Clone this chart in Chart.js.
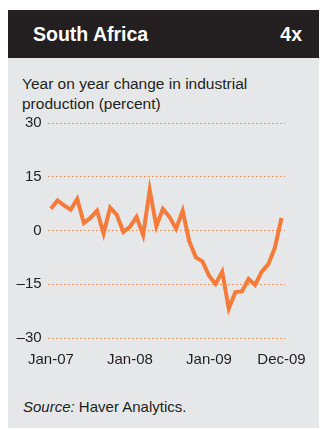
<!DOCTYPE html>
<html>
<head>
<meta charset="utf-8">
<script src="https://cdn.jsdelivr.net/npm/chart.js@4"></script>
<style>
  body { margin: 0; background: #fff; font-family: "Liberation Sans", Arial, sans-serif; }
  #panel { position: absolute; left: 8px; top: 10px; width: 311px; height: 418px; background: #e6e7e8; }
  #header { position: absolute; left: 0; top: 0; width: 311px; height: 48px; background: #231f20; color: #fff; font-weight: bold; font-size: 19.5px; }
  #header .l { position: absolute; left: 25px; top: 13px; }
  #header .r { position: absolute; right: 17px; top: 13px; }
  #title { position: absolute; left: 14px; top: 64px; font-size: 15.5px; line-height: 20px; color: #231f20; }
  #source { position: absolute; left: 15px; top: 388px; font-size: 15px; color: #231f20; }
  #wrap { position: absolute; left: 0; top: 98px; width: 311px; height: 270px; }
</style>
</head>
<body>
<div id="panel">
  <div id="header"><span class="l">South Africa</span><span class="r">4x</span></div>
  <div id="title">Year on year change in industrial<br>production (percent)</div>
  <div id="wrap"><canvas id="grafico"></canvas></div>
  <div id="source"><i>Source:</i> Haver Analytics.</div>
</div>
<script>
// monthly values, Jan-07 .. Dec-09
const meses = ["Jan-07","Feb-07","Mar-07","Apr-07","May-07","Jun-07","Jul-07","Aug-07","Sep-07","Oct-07","Nov-07","Dec-07",
  "Jan-08","Feb-08","Mar-08","Apr-08","May-08","Jun-08","Jul-08","Aug-08","Sep-08","Oct-08","Nov-08","Dec-08",
  "Jan-09","Feb-09","Mar-09","Apr-09","May-09","Jun-09","Jul-09","Aug-09","Sep-09","Oct-09","Nov-09","Dec-09"];
const valores = [6.1, 8.4, 7.0, 5.8, 8.8, 2.1, 3.5, 5.5, -0.8, 6.4, 4.4, -0.4,
  1.0, 3.8, -1.3, 11.3, 1.2, 6.0, 3.8, 0.5, 5.5, -3.0, -7.5, -8.6,
  -12.6, -14.9, -11.5, -21.8, -17.2, -17.0, -13.5, -15.2, -11.5, -9.4, -4.8, 3.5];
const ticksX = [0, 12, 24, 35];
const ticksY = [-30, -15, 0, 15, 30];
const rotulosY = ["\u201330", "\u201315", "0", "15", "30"];

const pontos = valores.map((v, i) => ({ x: i, y: v }));

new Chart(document.getElementById("grafico"), {
  type: "line",
  data: {
    datasets: [{
      data: pontos,
      borderColor: "#f47b3a",
      borderWidth: 4,
      pointRadius: 0,
      tension: 0,
      borderJoinStyle: "miter"
    }]
  },
  options: {
    responsive: true,
    maintainAspectRatio: false,
    animation: false,
    layout: { padding: { top: 14, right: 23.4, bottom: 0, left: 0 } },
    plugins: { legend: { display: false }, tooltip: { enabled: false } },
    scales: {
      x: {
        type: "linear",
        min: -0.5,
        max: 35.5,
        afterBuildTicks: s => { s.ticks = ticksX.map(v => ({ value: v })); },
        afterFit: s => { s.height = 40; },
        grid: { display: false, drawTicks: false },
        border: { display: false },
        ticks: {
          padding: 13,
          maxRotation: 0,
          autoSkip: false,
          color: "#231f20",
          font: { size: 15, family: "Liberation Sans" },
          callback: v => meses[v]
        }
      },
      y: {
        min: -30,
        max: 30,
        afterBuildTicks: s => { s.ticks = ticksY.map(v => ({ value: v })); },
        afterFit: s => { s.width = 39.6; },
        grid: { color: "#f08545", lineWidth: 1, drawTicks: false },
        border: { display: false, dash: [1.5, 2.5] },
        ticks: {
          padding: 6,
          color: "#231f20",
          font: { size: 15, family: "Liberation Sans" },
          callback: v => rotulosY[ticksY.indexOf(v)]
        }
      }
    }
  }
});
</script>
</body>
</html>
